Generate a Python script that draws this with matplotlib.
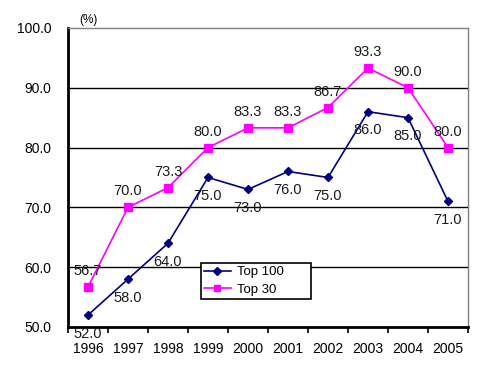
import numpy as np
import matplotlib
matplotlib.use("Agg")
import matplotlib.pyplot as plt

plt.rcParams['font.family'] = ['Liberation Sans', 'DejaVu Sans']

# data
years = ["1996", "1997", "1998", "1999", "2000", "2001", "2002", "2003", "2004", "2005"]
top100 = [52.0, 58.0, 64.0, 75.0, 73.0, 76.0, 75.0, 86.0, 85.0, 71.0]
top30 = [56.7, 70.0, 73.3, 80.0, 83.3, 83.3, 86.7, 93.3, 90.0, 80.0]
yticks = [50, 60, 70, 80, 90, 100]

fig = plt.figure(figsize=(5.0, 3.78), dpi=100)
ax = fig.add_axes([0.136, 0.135, 0.800, 0.791])

x = np.arange(len(years))

# gridlines first so lines sit on top
for yv in yticks[1:-1]:
    ax.axhline(yv, color='k', lw=1.0, zorder=1)

ax.plot(x, top100, color='#000080', marker='D', ms=4.5, lw=1.2, label='Top 100', zorder=3)
ax.plot(x, top30, color='#FF00FF', marker='s', ms=5.5, lw=1.2, label='Top 30', zorder=3)

# value labels: Top 100 below, Top 30 above
for xi, v in zip(x, top100):
    ax.annotate(f"{v:.1f}", (xi, v), xytext=(0, -13.5), textcoords='offset points',
                ha='center', va='center', fontsize=10.5, color='#1a1a1a', zorder=4)
for xi, v in zip(x, top30):
    ax.annotate(f"{v:.1f}", (xi, v), xytext=(0, 11.5), textcoords='offset points',
                ha='center', va='center', fontsize=10.5, color='#1a1a1a', zorder=4)

ax.set_xlim(-0.5, len(years) - 0.5)
ax.set_ylim(50, 100)
ax.set_yticks(yticks)
ax.set_yticklabels([f"{t:.1f}" for t in yticks], fontsize=10)
ax.set_xticks(x)
ax.set_xticklabels(years, fontsize=10)
ax.tick_params(axis='y', length=0, pad=12)
ax.tick_params(axis='x', which='major', length=0, pad=10.5)
ax.set_xticks(np.arange(-0.5, len(years)), minor=True)
ax.tick_params(axis='x', which='minor', length=4, width=1.2, direction='out')

for s in ['left', 'bottom']:
    ax.spines[s].set_linewidth(2.0)
    ax.spines[s].set_color('k')
for s in ['top', 'right']:
    ax.spines[s].set_linewidth(1.0)
    ax.spines[s].set_color('#808080')

fig.text(0.176, 0.947, "(%)", fontsize=8.5, ha='center', va='center')

leg = ax.legend(loc='lower left', bbox_to_anchor=(0.3325, 0.0936, 0.275, 0.127),
                mode='expand', fontsize=9.5, numpoints=1,
                frameon=True, fancybox=False, edgecolor='k', framealpha=1,
                borderpad=0.25, handlelength=2.0, handletextpad=0.45,
                labelspacing=0.4, borderaxespad=0, markerscale=0.9)
leg.get_frame().set_linewidth(1.2)

fig.savefig("out.png", dpi=100)
